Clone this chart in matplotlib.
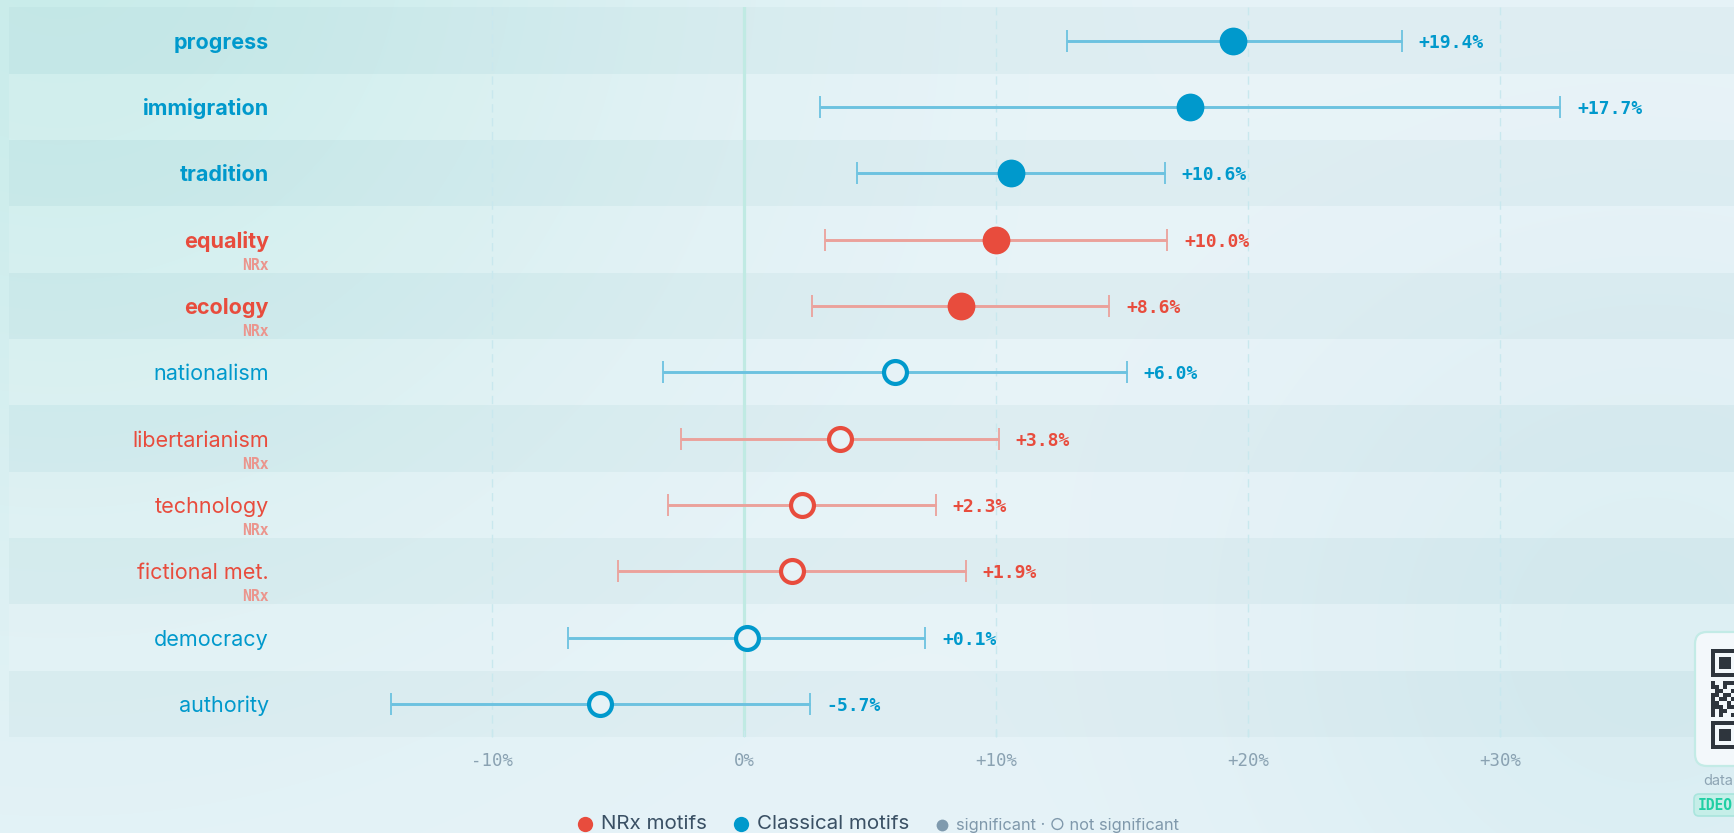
import numpy as np
import matplotlib
matplotlib.use("Agg")
import matplotlib.pyplot as plt
import matplotlib.transforms as mtransforms
from matplotlib.patches import FancyBboxPatch, Rectangle

# datos (cambio en %, IC 95%)
motivos = ["progress", "immigration", "tradition", "equality", "ecology", "nationalism",
           "libertarianism", "technology", "fictional met.", "democracy", "authority"]
grupo = ["cls", "cls", "cls", "nrx", "nrx", "cls", "nrx", "nrx", "nrx", "cls", "cls"]
valor = [19.4, 17.7, 10.6, 10.0, 8.6, 6.0, 3.8, 2.3, 1.9, 0.1, -5.7]
ic_bajo = [12.8, 3.0, 4.5, 3.2, 2.7, -3.2, -2.5, -3.0, -5.0, -7.0, -14.0]
ic_alto = [26.1, 32.4, 16.7, 16.8, 14.5, 15.2, 10.1, 7.6, 8.8, 7.2, 2.6]
significativo = [True, True, True, True, True, False, False, False, False, False, False]
ticks_x = [-10, 0, 10, 20, 30]
ticks_txt = ["-10%", "0%", "+10%", "+20%", "+30%"]

W, H = 1734, 833
COL = {"cls": "#0099cc", "nrx": "#e84c3d"}
COL_IC = {"cls": "#6cc2e0", "nrx": "#eba19b"}
SANS = ["Inter", "DejaVu Sans"]
MONO = ["DejaVu Sans Mono"]

fig = plt.figure(figsize=(W / 100, H / 100), dpi=100)

# fondo con degradado suave
bg = fig.add_axes([0, 0, 1, 1], zorder=-5)
yy, xx = np.mgrid[0:H, 0:W]
img = np.ones((H, W, 3)) * np.array([231, 243, 248]) / 255
a1 = 0.95 * np.exp(-((xx - 60) ** 2 + (yy + 60) ** 2) / (2 * 450.0 ** 2))
img = img * (1 - a1[..., None]) + a1[..., None] * np.array([200, 236, 234]) / 255
a2 = 0.8 * np.exp(-((xx - 1650) ** 2 + (yy - 640) ** 2) / (2 * 300.0 ** 2))
img = img * (1 - a2[..., None]) + a2[..., None] * np.array([214, 236, 241]) / 255
bg.imshow(img, extent=[0, W, H, 0], aspect="auto")
bg.set_xlim(0, W)
bg.set_ylim(H, 0)
bg.axis("off")

# eje principal
x0_px, x_cero, px_10 = 9, 744, 252.0
y_top, y_bot = 7.4, 737
xmin = (x0_px - x_cero) / (px_10 / 10)
xmax = (W - x_cero) / (px_10 / 10)
ax = fig.add_axes([x0_px / W, (H - y_bot) / H, (W - x0_px) / W, (y_bot - y_top) / H])
ax.set_facecolor("none")
n = len(motivos)
ax.set_xlim(xmin, xmax)
ax.set_ylim(n - 0.5, -0.5)
for s in ax.spines.values():
    s.set_visible(False)

for i in range(n):
    if i % 2 == 0:
        ax.axhspan(i - 0.5, i + 0.5, color="#2a6a80", alpha=0.035, lw=0, zorder=0)
    else:
        ax.axhspan(i - 0.5, i + 0.5, color="white", alpha=0.12, lw=0, zorder=0)

for t in ticks_x:
    if t == 0:
        ax.axvline(t, color="#c0eae3", lw=2.3, zorder=1)
    else:
        ax.axvline(t, color="#c9e8ee", lw=1, ls=(0, (6, 4)), zorder=1)

ax.set_yticks([])
ax.set_xticks(ticks_x)
ax.set_xticklabels(ticks_txt, family=MONO, fontsize=12.5, color="#8aa2b2")
ax.tick_params(axis="x", direction="in", length=5, width=1, color="#c9e8ee", pad=11)

tr = mtransforms.blended_transform_factory(ax.transAxes, ax.transData)
lab_x = (269 - x0_px) / (W - x0_px)
for i in range(n):
    g = grupo[i]
    v = valor[i]
    ax.errorbar(v, i, xerr=[[v - ic_bajo[i]], [ic_alto[i] - v]], fmt="none",
                ecolor=COL_IC[g], elinewidth=2.1, capsize=8, capthick=1.3, zorder=3)
    if significativo[i]:
        ax.plot(v, i, "o", ms=20, mfc=COL[g], mec=COL[g], mew=0, zorder=4)
    else:
        ax.plot(v, i, "o", ms=16.5, mfc="#e6f2f6", mec=COL[g], mew=3, zorder=4)
    ax.annotate(f"{v:+.1f}%", (ic_alto[i], i), xytext=(12, 0), textcoords="offset points",
                ha="left", va="center_baseline", family=MONO, fontweight="bold", fontsize=13,
                color=COL[g], zorder=5)
    ax.text(lab_x, i, motivos[i], transform=tr, ha="right", va="center_baseline", family=SANS,
            fontsize=15.5, color=COL[g], fontweight="bold" if significativo[i] else "normal")
    if g == "nrx":
        ax.text(lab_x, i + 0.385, "NRx", transform=tr, ha="right", va="center", family=MONO,
                fontsize=10.6, fontweight="bold", color="#eb958d")

# capa de decoracion: leyenda, tarjeta QR
ov = fig.add_axes([0, 0, 1, 1], zorder=10)
ov.set_xlim(0, W)
ov.set_ylim(H, 0)
ov.axis("off")

ley_y = 824
ov.plot(585, ley_y, "o", ms=11, color=COL["nrx"], mew=0)
ov.text(601, ley_y, "NRx motifs", ha="left", va="center", family=SANS, fontsize=14.8, color="#3a5064")
ov.plot(741, ley_y, "o", ms=11, color=COL["cls"], mew=0)
ov.text(757, ley_y, "Classical motifs", ha="left", va="center", family=SANS, fontsize=14.8, color="#3a5064")
ov.plot(942, ley_y + 1, "o", ms=8.5, color="#7f9aae", mew=0)
ov.text(956, ley_y + 1, "significant \u00b7 \u25cb not significant", ha="left", va="center",
        family=["Inter", "DejaVu Sans"], fontsize=11.8, color="#7f98ab")

card = FancyBboxPatch((1695, 632), 80, 134, boxstyle="round,pad=0,rounding_size=12",
                      fc="#f3f8fb", ec="#c3ebe6", lw=1.6)
ov.add_patch(card)
qr = ["1111111", "1000001", "1011101", "1011101", "1011101", "1000001", "1111111", "0000000",
      "1001110", "1101001", "0110010", "1101101", "1011010", "1100101", "1110110", "1011001",
      "1010010", "0000000", "1111111", "1000001", "1011101", "1011101", "1011101", "1000001",
      "1111111"]
for r, fila in enumerate(qr):
    for c, ch in enumerate(fila):
        if ch == "1":
            ov.add_patch(Rectangle((1711 + 4 * c, 649 + 4 * r), 4, 4, fc="#2e353d", ec="none"))
ov.text(1733, 781, "data", ha="right", va="center", family=SANS, fontsize=10.5, color="#8ea5b4")
badge = FancyBboxPatch((1694, 794), 90, 22, boxstyle="round,pad=0,rounding_size=5",
                       fc="#c5eee8", ec="#a9e5dd", lw=1.2)
ov.add_patch(badge)
ov.text(1733, 805.5, "IDEO", ha="right", va="center", family=MONO, fontsize=10.5,
        fontweight="bold", color="#1fcfa4")

fig.savefig("out.png", dpi=100)
